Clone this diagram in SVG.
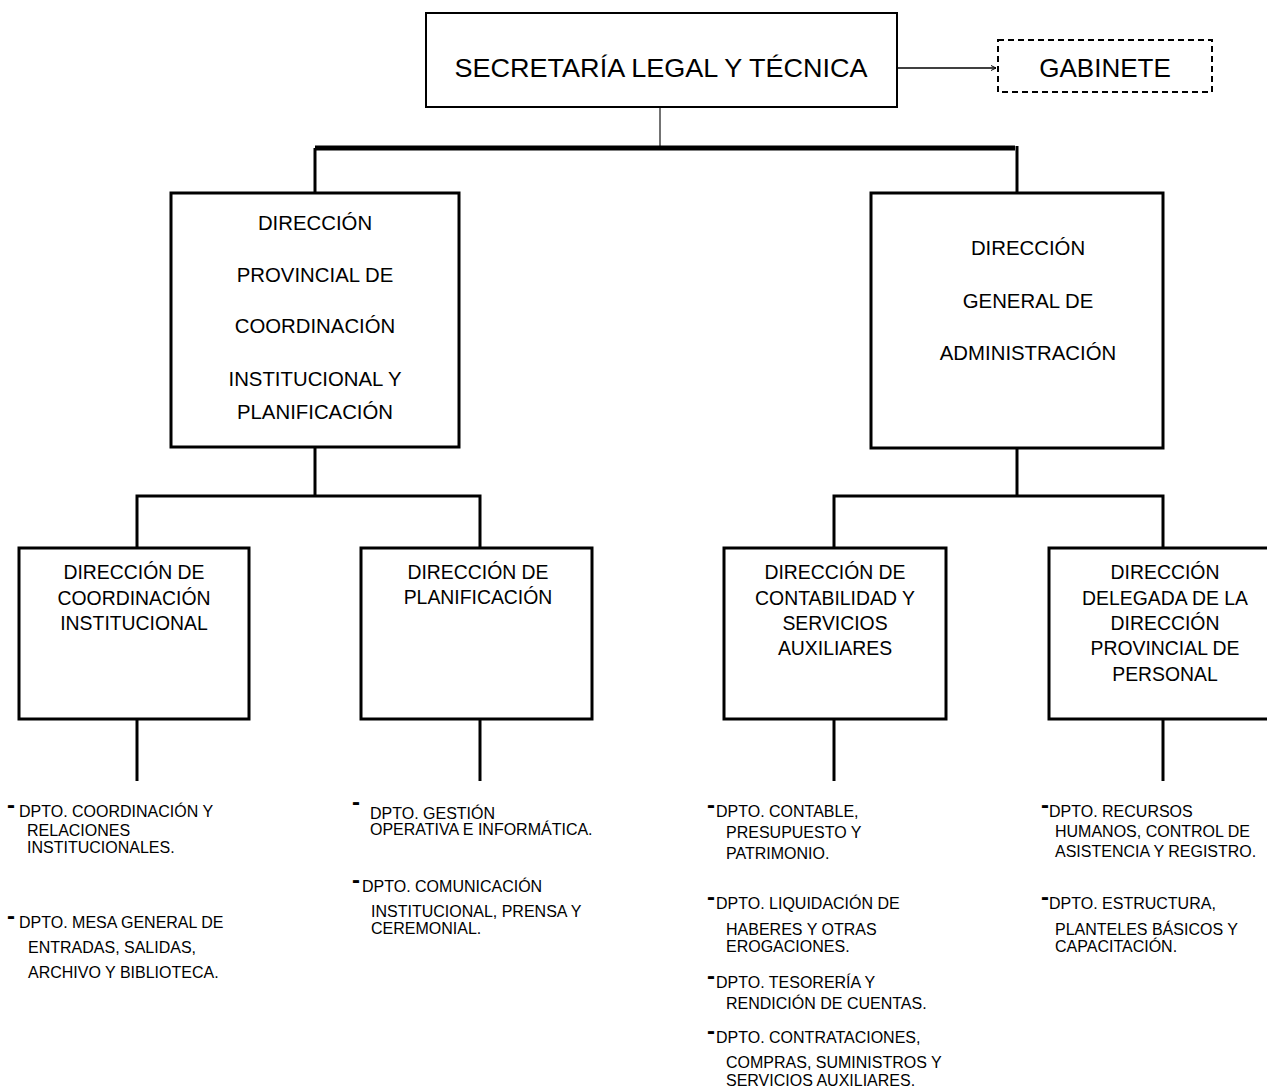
<svg xmlns="http://www.w3.org/2000/svg" width="1267" height="1091" viewBox="0 0 1267 1091">
<style>
text{font-family:"Liberation Sans",Arial,sans-serif;fill:#000}
.box{fill:#fff;stroke:#000;stroke-width:3}
.t26{font-size:26px;text-anchor:middle}
.t21{font-size:21px;text-anchor:middle}
.t20{font-size:20px;text-anchor:middle}
.l{font-size:16px}
.d{font-size:24px;font-weight:bold}
.c{fill:none;stroke:#000;stroke-width:3}
</style>
<defs>
<marker id="ah" markerWidth="6" markerHeight="6" refX="5" refY="3" orient="auto" markerUnits="userSpaceOnUse">
<path d="M0,0.5 L5,3 L0,5.5" fill="none" stroke="#000" stroke-width="1"/>
</marker>
</defs>
<rect width="1267" height="1091" fill="#fff"/>
<g id="connectors">
<line x1="660" y1="107" x2="660" y2="148" stroke="#444" stroke-width="1.5"/>
<line x1="315" y1="148" x2="1015" y2="148" stroke="#000" stroke-width="5"/>
<polyline class="c" points="315,148 315,193"/>
<polyline class="c" points="1017,146 1017,193"/>
<line x1="897" y1="68" x2="996" y2="68" stroke="#000" stroke-width="1.5" marker-end="url(#ah)"/>
<polyline class="c" points="315,447 315,496"/>
<polyline class="c" points="137,548 137,496 480,496 480,548"/>
<polyline class="c" points="1017,448 1017,496"/>
<polyline class="c" points="834,548 834,496 1163,496 1163,548"/>
<line class="c" x1="137" y1="719" x2="137" y2="781"/>
<line class="c" x1="480" y1="719" x2="480" y2="781"/>
<line class="c" x1="834" y1="719" x2="834" y2="781"/>
<line class="c" x1="1163" y1="719" x2="1163" y2="781"/>
</g>
<g id="secretaria">
<rect x="426" y="13" width="471" height="94" fill="#fff" stroke="#000" stroke-width="2"/>
<text class="t26" x="661" y="77" textLength="413" lengthAdjust="spacingAndGlyphs">SECRETARÍA LEGAL Y TÉCNICA</text>
</g>
<g id="gabinete">
<rect x="998" y="40" width="214" height="52" fill="#fff" stroke="#000" stroke-width="2" stroke-dasharray="6,4"/>
<text class="t26" x="1105" y="77">GABINETE</text>
</g>
<g id="dir-provincial">
<rect class="box" x="171" y="193" width="288" height="254"/>
<text class="t21" transform="translate(315,230) scale(0.97,1)">DIRECCIÓN</text>
<text class="t21" transform="translate(315,282) scale(0.97,1)">PROVINCIAL DE</text>
<text class="t21" transform="translate(315,333) scale(0.97,1)">COORDINACIÓN</text>
<text class="t21" transform="translate(315,386) scale(0.97,1)">INSTITUCIONAL Y</text>
<text class="t21" transform="translate(315,419) scale(0.97,1)">PLANIFICACIÓN</text>
</g>
<g id="dir-general">
<rect class="box" x="871" y="193" width="292" height="255"/>
<text class="t21" transform="translate(1028,255) scale(0.97,1)">DIRECCIÓN</text>
<text class="t21" transform="translate(1028,308) scale(0.97,1)">GENERAL DE</text>
<text class="t21" transform="translate(1028,360) scale(0.97,1)">ADMINISTRACIÓN</text>
</g>
<g id="dir-coordinacion">
<rect class="box" x="19" y="548" width="230" height="171"/>
<text class="t20" transform="translate(134,579) scale(0.97,1)">DIRECCIÓN DE</text>
<text class="t20" transform="translate(134,605) scale(0.97,1)">COORDINACIÓN</text>
<text class="t20" transform="translate(134,630) scale(0.97,1)">INSTITUCIONAL</text>
</g>
<g id="dir-planificacion">
<rect class="box" x="361" y="548" width="231" height="171"/>
<text class="t20" transform="translate(478,579) scale(0.97,1)">DIRECCIÓN DE</text>
<text class="t20" transform="translate(478,604) scale(0.97,1)">PLANIFICACIÓN</text>
</g>
<g id="dir-contabilidad">
<rect class="box" x="724" y="548" width="222" height="171"/>
<text class="t20" transform="translate(835,579) scale(0.97,1)">DIRECCIÓN DE</text>
<text class="t20" transform="translate(835,605) scale(0.97,1)">CONTABILIDAD Y</text>
<text class="t20" transform="translate(835,630) scale(0.97,1)">SERVICIOS</text>
<text class="t20" transform="translate(835,655) scale(0.97,1)">AUXILIARES</text>
</g>
<g id="dir-delegada">
<rect class="box" x="1049" y="548" width="222" height="171"/>
<text class="t20" transform="translate(1165,579) scale(0.97,1)">DIRECCIÓN</text>
<text class="t20" transform="translate(1165,605) scale(0.97,1)">DELEGADA DE LA</text>
<text class="t20" transform="translate(1165,630) scale(0.97,1)">DIRECCIÓN</text>
<text class="t20" transform="translate(1165,655) scale(0.97,1)">PROVINCIAL DE</text>
<text class="t20" transform="translate(1165,681) scale(0.97,1)">PERSONAL</text>
</g>
<g id="dptos-coordinacion">
<text class="d" x="7" y="813">-</text>
<text class="l" x="19" y="817">DPTO. COORDINACIÓN Y</text>
<text class="l" x="27" y="836">RELACIONES</text>
<text class="l" x="27" y="853">INSTITUCIONALES.</text>
<text class="d" x="7" y="924">-</text>
<text class="l" x="19" y="928">DPTO. MESA GENERAL DE</text>
<text class="l" x="28" y="953">ENTRADAS, SALIDAS,</text>
<text class="l" x="28" y="978">ARCHIVO Y BIBLIOTECA.</text>
</g>
<g id="dptos-planificacion">
<text class="d" x="352" y="810">-</text>
<text class="l" x="370" y="819">DPTO. GESTIÓN</text>
<text class="l" x="370" y="835">OPERATIVA E INFORMÁTICA.</text>
<text class="d" x="352" y="888">-</text>
<text class="l" x="362" y="892">DPTO. COMUNICACIÓN</text>
<text class="l" x="371" y="917">INSTITUCIONAL, PRENSA Y</text>
<text class="l" x="371" y="934">CEREMONIAL.</text>
</g>
<g id="dptos-contabilidad">
<text class="d" x="707" y="813">-</text>
<text class="l" x="716" y="817">DPTO. CONTABLE,</text>
<text class="l" x="726" y="838">PRESUPUESTO Y</text>
<text class="l" x="726" y="859">PATRIMONIO.</text>
<text class="d" x="707" y="905">-</text>
<text class="l" x="716" y="909">DPTO. LIQUIDACIÓN DE</text>
<text class="l" x="726" y="935">HABERES Y OTRAS</text>
<text class="l" x="726" y="952">EROGACIONES.</text>
<text class="d" x="707" y="984">-</text>
<text class="l" x="716" y="988">DPTO. TESORERÍA Y</text>
<text class="l" x="726" y="1009">RENDICIÓN DE CUENTAS.</text>
<text class="d" x="707" y="1039">-</text>
<text class="l" x="716" y="1043">DPTO. CONTRATACIONES,</text>
<text class="l" x="726" y="1068">COMPRAS, SUMINISTROS Y</text>
<text class="l" x="726" y="1086">SERVICIOS AUXILIARES.</text>
</g>
<g id="dptos-personal">
<text class="d" x="1041" y="813">-</text>
<text class="l" x="1049" y="817">DPTO. RECURSOS</text>
<text class="l" x="1055" y="837">HUMANOS, CONTROL DE</text>
<text class="l" x="1055" y="857">ASISTENCIA Y REGISTRO.</text>
<text class="d" x="1041" y="905">-</text>
<text class="l" x="1049" y="909">DPTO. ESTRUCTURA,</text>
<text class="l" x="1055" y="935">PLANTELES BÁSICOS Y</text>
<text class="l" x="1055" y="952">CAPACITACIÓN.</text>
</g>
</svg>
